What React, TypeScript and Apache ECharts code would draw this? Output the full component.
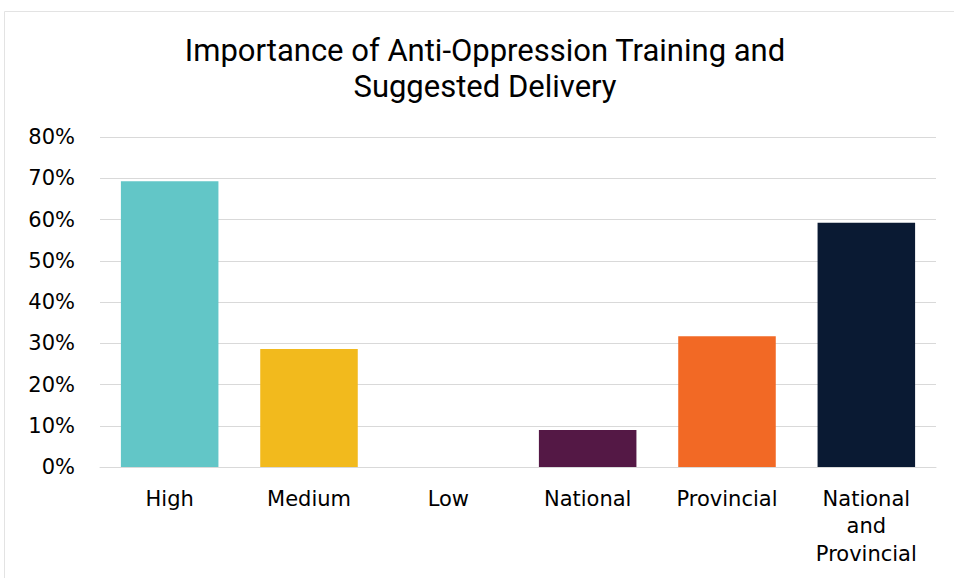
import React, { useEffect, useRef } from "react";
import * as echarts from "echarts";

const categories = ["High", "Medium", "Low", "National", "Provincial", "National\nand\nProvincial"];
const values = [69.3, 28.6, 0, 9, 31.7, 59.2];
const colors = ["#62C6C7", "#F2BA1D", "#FFFFFF", "#541845", "#F26925", "#0A1A33"];
const yTicks = [0, 10, 20, 30, 40, 50, 60, 70, 80];
const titleText = "Importance of Anti-Oppression Training and\nSuggested Delivery";

export default function App() {
  const ref = useRef<HTMLDivElement>(null);
  useEffect(() => {
    const chart = echarts.init(ref.current!, undefined, { renderer: "svg" });
    chart.setOption({
      animation: false,
      backgroundColor: "#ffffff",
      graphic: [
        {
          type: "rect",
          shape: { x: 4.5, y: 11.5, width: 1000, height: 1000 },
          style: { fill: "none", stroke: "#E3E3E3", lineWidth: 1 },
          silent: true,
        },
        {
          type: "text",
          x: 485,
          y: 32,
          silent: true,
          style: {
            text: titleText,
            align: "center",
            verticalAlign: "top",
            fontFamily: "Roboto",
            fontWeight: "normal",
            fontSize: 31,
            lineHeight: 36,
            fill: "#000000",
          },
        },
      ],
      grid: { left: 100, right: 18, top: 137, bottom: 111, containLabel: false },
      xAxis: {
        type: "category",
        data: categories,
        axisLine: { show: true, lineStyle: { color: "#D9D9D9", width: 1 } },
        axisTick: { show: false },
        axisLabel: {
          color: "#000000",
          fontFamily: "DejaVu Sans",
          fontSize: 21,
          lineHeight: 27.5,
          margin: 18,
          interval: 0,
        },
      },
      yAxis: {
        type: "value",
        min: 0,
        max: 80,
        interval: 10,
        axisLine: { show: false },
        axisTick: { show: false },
        splitLine: { lineStyle: { color: "#D9D9D9", width: 1 } },
        axisLabel: {
          color: "#000000",
          fontFamily: "DejaVu Sans",
          fontSize: 21,
          margin: 25,
          formatter: (v: number) => (yTicks.includes(v) ? v + "%" : ""),
        },
      },
      series: [
        {
          type: "bar",
          barWidth: "70%",
          data: values.map((v, i) => ({ value: v, itemStyle: { color: colors[i] } })),
        },
      ],
    });
    return () => chart.dispose();
  }, []);
  return (
    <div
      ref={ref}
      style={{ position: "absolute", left: 0, top: 0, width: 954, height: 578 }}
    />
  );
}
